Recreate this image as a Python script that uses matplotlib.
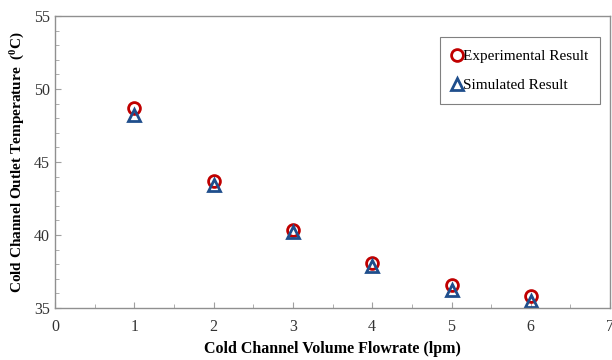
import matplotlib
matplotlib.use("Agg")
import matplotlib.pyplot as plt
from matplotlib.ticker import MultipleLocator

plt.rcParams['font.family'] = ['Liberation Serif', 'DejaVu Serif']
plt.rcParams['mathtext.fontset'] = 'custom'
plt.rcParams['mathtext.rm'] = 'Liberation Serif'
plt.rcParams['mathtext.bf'] = 'Liberation Serif:bold'

flowrate = [1, 2, 3, 4, 5, 6]
experimental = [48.7, 43.7, 40.35, 38.1, 36.6, 35.8]
simulated = [48.2, 43.4, 40.2, 37.9, 36.2, 35.5]

fig = plt.figure(figsize=(6.12, 3.6), dpi=100)
ax = fig.add_axes([0.0899, 0.1444, 0.907, 0.8112])

ax.plot(flowrate, experimental, linestyle='none', marker='o', markersize=8.5,
        markerfacecolor='none', markeredgecolor='#C00000', markeredgewidth=2.0,
        label='Experimental Result')
ax.plot(flowrate, simulated, linestyle='none', marker='^', markersize=8.5,
        markerfacecolor='none', markeredgecolor='#1F4E8C', markeredgewidth=2.0,
        label='Simulated Result')

ax.set_xlim(0, 7)
ax.set_ylim(35, 55)
ax.xaxis.set_major_locator(MultipleLocator(1))
ax.xaxis.set_minor_locator(MultipleLocator(0.5))
ax.yaxis.set_major_locator(MultipleLocator(5))
ax.yaxis.set_minor_locator(MultipleLocator(1))
ax.tick_params(which='both', direction='in', color='#A0A0A0', labelsize=11.5, labelcolor='#333333')
ax.tick_params(which='major', length=4)
ax.tick_params(which='minor', length=3)
ax.tick_params(axis='x', pad=8)
for s in ax.spines.values():
    s.set_color('#909090')
    s.set_linewidth(1.0)

ax.set_xlabel('Cold Channel Volume Flowrate (lpm)', fontsize=11.5, fontweight='bold', labelpad=4)
ax.set_ylabel(r'Cold Channel Outlet Temperature  ($\mathbf{^0}$C)', fontsize=11, fontweight='bold', labelpad=5)

leg = ax.legend(loc='upper right', bbox_to_anchor=(0.982, 0.928), borderaxespad=0,
                frameon=True, fancybox=False,
                edgecolor='#606060', fontsize=11, handlelength=0.6, handletextpad=0.1,
                labelspacing=1.0, borderpad=0.8)
leg.get_frame().set_linewidth(0.8)

fig.savefig('out.png', dpi=100)
